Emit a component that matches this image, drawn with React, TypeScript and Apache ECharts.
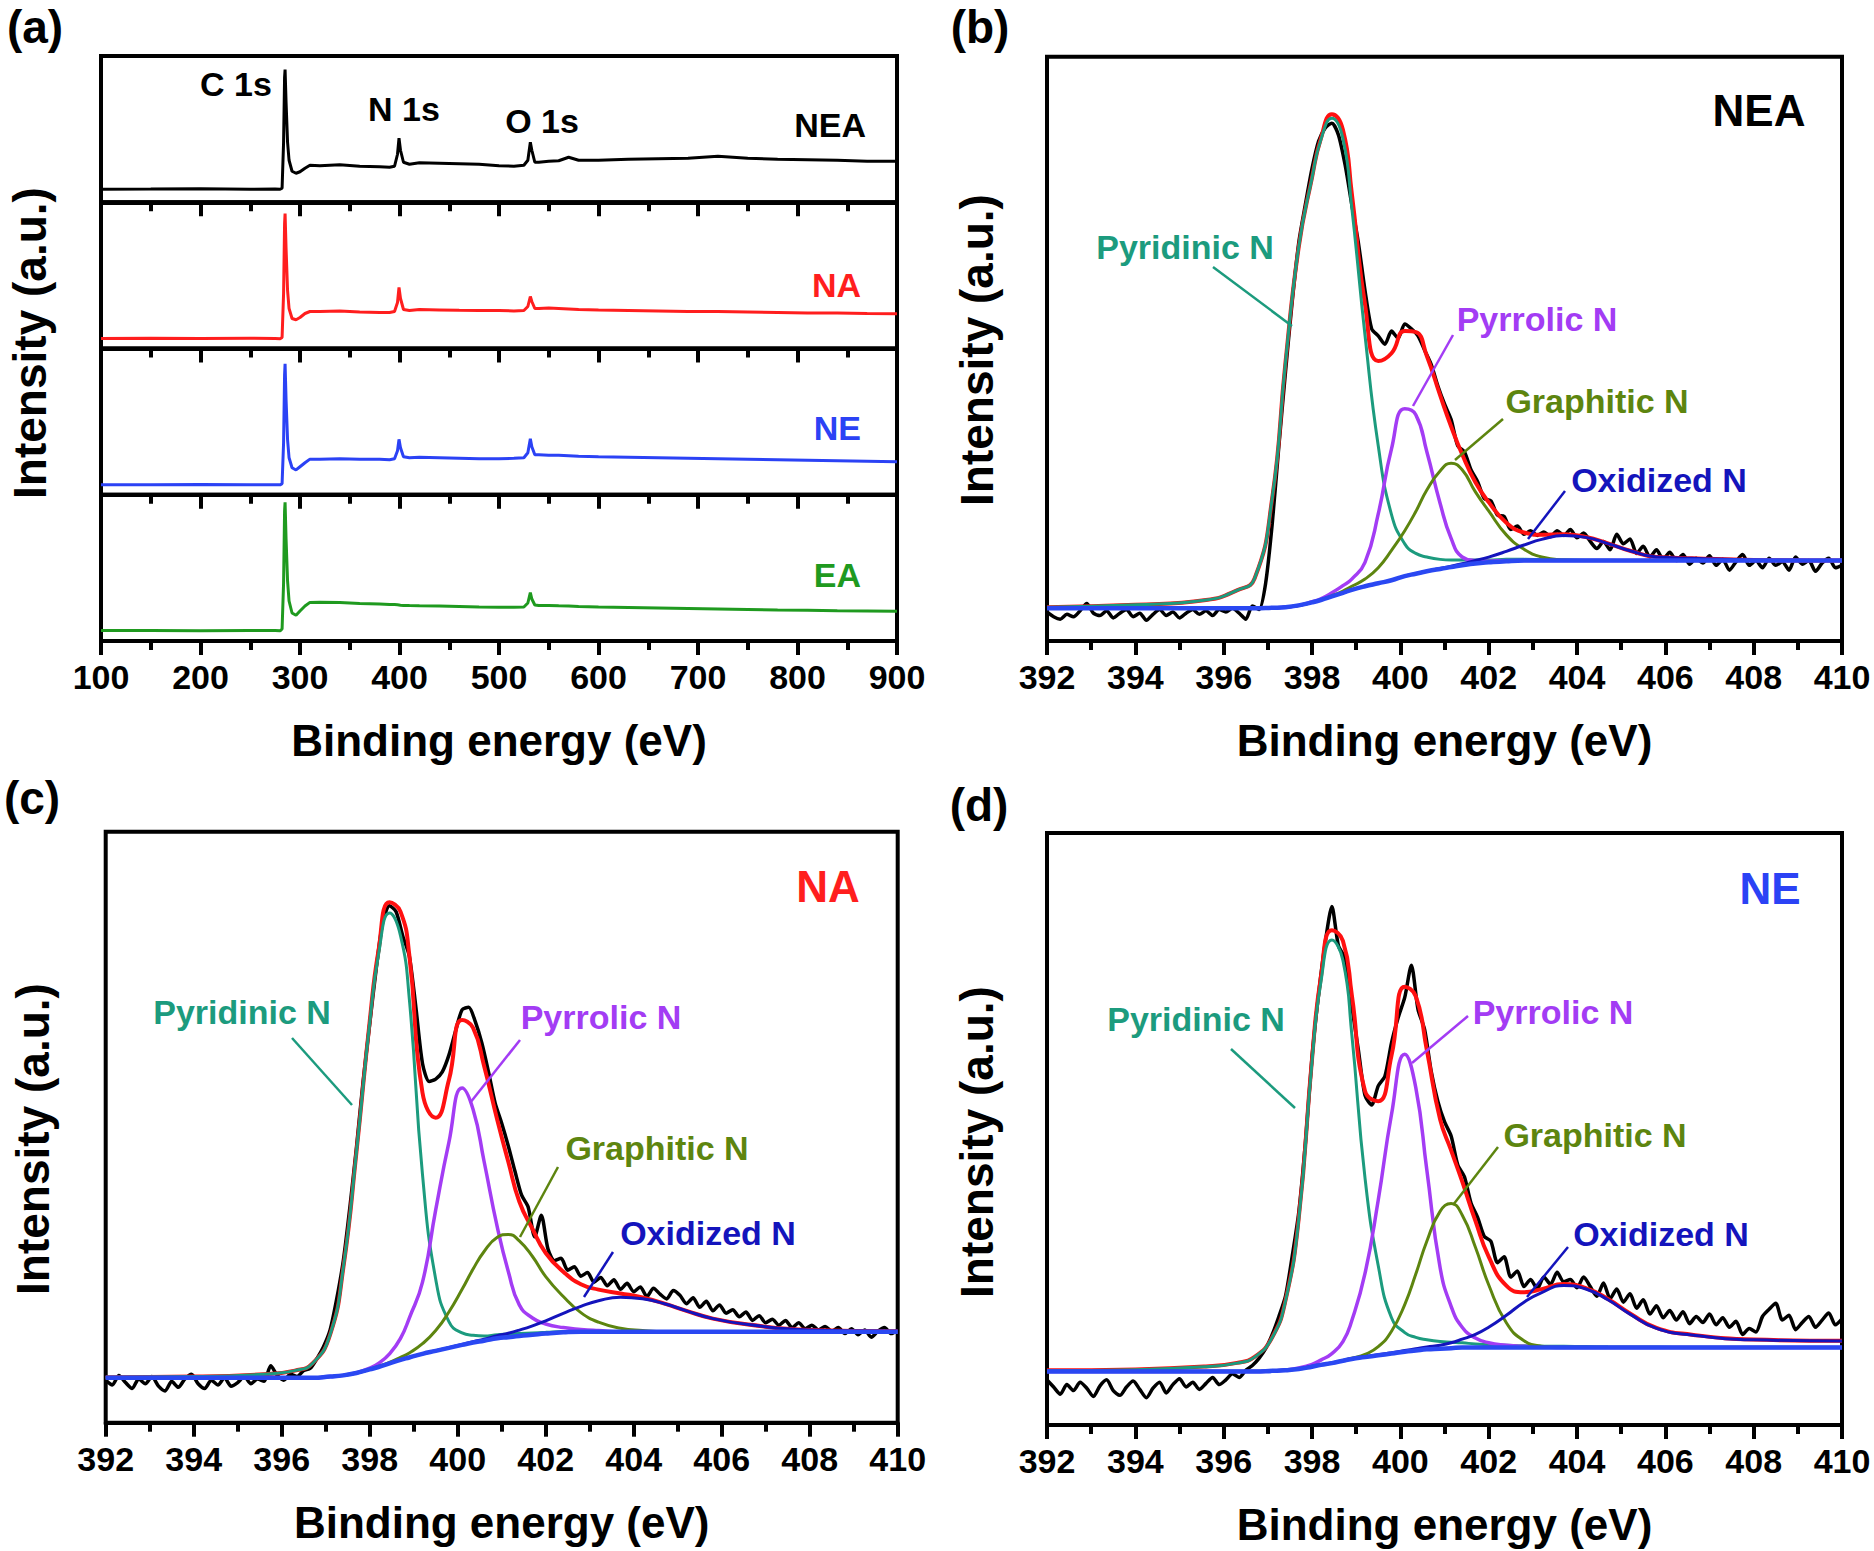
import React, { useEffect, useRef } from "react";
import * as echarts from "echarts";

const FONT = '"Liberation Sans", Arial, Helvetica, sans-serif';

// ---------------- (a) survey spectra ----------------
const SURVEY_X = [100, 150, 200, 250, 275, 280, 282, 283.5, 284.5, 285, 286, 287.5, 289, 292, 296, 300, 305, 310, 320, 340, 360, 380, 390, 395, 398, 399.5, 401, 404, 410, 420, 440, 460, 480, 500, 515, 525, 529, 531.5, 533, 536, 540, 550, 560, 570, 580, 600, 630, 660, 690, 720, 750, 780, 810, 840, 870, 900];
const SURVEY_NEA = [12.9, 13.2, 13.6, 13.0, 13.2, 13.0, 14, 60, 125, 132.7, 100, 60, 42, 31, 29, 30.5, 34, 37, 36.5, 37.5, 36, 35.5, 35, 36, 48, 64, 52, 40, 38, 39.5, 39, 38.5, 38, 36.5, 36, 37, 42, 60, 52, 40, 40, 41, 41.5, 45, 42, 42, 43, 43.5, 44, 46, 44, 43, 42.5, 42, 41, 41];
const SURVEY_NA = [9.9, 10.2, 10.0, 10.3, 10.0, 9.8, 11, 55, 125, 135, 100, 58, 40, 30, 28.7, 31, 35, 37, 37, 37.5, 36.5, 36, 36, 37, 46, 61, 50, 39, 38, 39, 38.6, 38.2, 38, 38, 37.5, 38, 42, 52, 47, 40, 40, 40.5, 40, 39.5, 39, 38.5, 38, 37.5, 37, 37, 36.5, 36, 35.5, 35.5, 35, 34.7];
const SURVEY_NE = [9.9, 10.1, 10.3, 10.0, 10.1, 9.9, 11, 52, 120, 131, 95, 55, 37, 27, 24.8, 28, 32, 35.6, 35.5, 36, 35.5, 35.5, 35, 36, 44, 55.4, 47, 38, 37, 37.5, 37, 36.5, 36, 36, 36.5, 37, 42, 56, 48, 40, 40, 39.6, 39.5, 39, 38.5, 38, 37.5, 37, 36.5, 36, 35.5, 35, 34.5, 34, 33.5, 33];
const SURVEY_EA = [10.4, 10.6, 10.3, 10.5, 10.4, 10.2, 12, 58, 130, 138.6, 102, 60, 40, 28, 25.7, 30, 35, 38.6, 38.8, 38.4, 37.6, 37, 36.6, 36.4, 36.2, 36, 35.8, 35.6, 35.4, 35.2, 35, 34.5, 34, 33.7, 33.7, 34, 38, 48.5, 42, 36, 35.6, 35.6, 35.2, 35, 34.6, 34, 33.5, 33, 32.5, 32, 31.5, 31, 30.8, 30.3, 30, 29.7];

// ---------------- N 1s fits (b, c, d) ----------------
const FIT_X = [392, 394, 395.6, 396.3, 396.7, 397.1, 397.4, 397.7, 398.0, 398.2, 398.45, 398.7, 398.9, 399.2, 399.5, 399.8, 400.1, 400.35, 400.6, 400.9, 401.15, 401.4, 401.7, 402.0, 402.4, 402.8, 403.2, 403.7, 404.2, 404.7, 405.2, 405.8, 406.6, 408, 410];

const BG_B = [34, 34, 34, 34, 34, 34.5, 35, 36.5, 39, 41, 44, 47, 49.5, 52.5, 55, 57.5, 61, 63, 65, 67, 68.5, 70, 71.5, 72.5, 73.5, 74, 74, 74, 74, 74, 74, 74, 74, 74, 74];
const PYRI_B = [1, 3, 7, 15, 25, 92, 205, 300, 355, 385, 400, 380, 320, 210, 115, 55, 27, 17, 12, 8, 6, 4.5, 3, 2, 1.5, 1, 0.8, 0.5, 0.3, 0.2, 0, 0, 0, 0, 0];
const PYRR_B = [0, 0, 0, 0, 0, 0, 0, 0, 0.5, 1, 3, 6, 9, 20, 58, 110, 140, 133, 100, 55, 24, 7, 2.5, 1, 0.5, 0, 0, 0, 0, 0, 0, 0, 0, 0, 0];
const GRAPH_B = [0, 0, 0, 0, 0, 0, 0, 0, 0, 0, 0.5, 1.5, 3, 6, 13, 25, 38, 52, 68, 82, 87, 80, 60, 43, 22, 9.5, 3, 0.5, 0, 0, 0, 0, 0, 0, 0];
const OXI_B = [0, 0, 0, 0, 0, 0, 0, 0, 0, 0, 0, 0, 0, 0, 0, 0, 0, 0.1, 0.15, 0.4, 0.7, 1.4, 2.5, 4.4, 8.2, 13, 17.7, 21, 19.4, 14.2, 8.2, 3, 2, 0.5, 0];

const BG_C = [42, 42, 42, 42, 42, 43, 44, 46, 49, 51, 54, 57, 59, 62, 64.5, 67, 69.5, 71.5, 73, 75, 76, 77, 78, 79, 80, 80.5, 80.5, 80.5, 80.5, 80.5, 80.5, 80.5, 80.5, 80.5, 80.5];
const PYRI_C = [0.5, 1, 3, 6, 12, 35, 90, 185, 290, 345, 377, 355, 300, 150, 60, 22, 10, 6, 4, 3, 2.5, 2, 1.5, 1, 0.8, 0.5, 0.3, 0.2, 0.1, 0, 0, 0, 0, 0, 0];
const PYRR_C = [0, 0, 0, 0, 0, 0, 0, 0.3, 1, 3, 8, 18, 33, 60, 118, 172, 215, 195, 150, 93, 55, 26, 14, 8, 4, 2, 1, 0, 0, 0, 0, 0, 0, 0, 0];
const GRAPH_C = [0, 0, 0, 0, 0, 0, 0, 0, 0.2, 0.5, 0.9, 2.1, 3.8, 8.5, 17, 30, 46.5, 61.5, 74.7, 84.5, 86, 79.6, 65.5, 47.7, 30, 16, 8, 3, 1, 0, 0, 0, 0, 0, 0];
const OXI_C = [0, 0, 0, 0, 0, 0, 0, 0, 0, 0, 0, 0, 0, 0, 0.1, 0.2, 0.4, 0.75, 1.2, 2.2, 3.3, 4.9, 7.5, 10.7, 15.9, 21.3, 26, 28.9, 27.6, 23.5, 17.5, 11, 6, 1.5, 0.5];

const BG_D = [49, 49, 49, 49, 49, 49.5, 50, 51, 53, 54.5, 56, 58, 59.5, 61, 62.5, 64, 65.5, 66.5, 67.5, 68, 68.5, 69, 69, 69, 69, 69, 69, 69, 69, 69, 69, 69, 69, 69, 69];
const PYRI_D = [0.8, 1.5, 4, 7, 12, 28, 58, 125, 255, 320, 354, 335, 272, 150, 75, 30, 16, 11, 8, 6, 5, 4, 3, 2.5, 2, 1.5, 1.2, 1, 0.8, 0.6, 0.5, 0.4, 0.3, 0.2, 0.1];
const PYRR_D = [0, 0, 0, 0, 0, 0, 0.3, 1, 2, 4, 8, 16, 32, 70, 130, 200, 249, 220, 150, 68, 35, 17, 8, 4, 2, 1, 0.5, 0, 0, 0, 0, 0, 0, 0, 0];
const GRAPH_D = [0, 0, 0, 0, 0, 0, 0, 0, 0, 0, 0, 0.1, 0.6, 2.3, 7.2, 18.6, 39.5, 64, 90.5, 115, 121, 111, 84, 52.6, 20.8, 5.8, 1.2, 0.1, 0, 0, 0, 0, 0, 0, 0];
const OXI_D = [0.2, 0.2, 0.2, 0.2, 0.2, 0.2, 0.2, 0.3, 0.3, 0.3, 0.3, 0.3, 0.4, 0.4, 0.5, 0.7, 1, 1.5, 2, 3, 4.5, 7, 11, 17, 27, 38, 46, 52, 49, 40, 28, 16, 10.5, 6.5, 5.5];

// raw spectra: 392 eV to 410 eV in 0.15 eV steps
const RAW_START = 392;
const RAW_STEP = 0.15;
const RAW_B = [31, 27, 25, 29, 27, 32, 38, 30, 28, 32, 26, 30, 33, 27, 30, 24, 29, 33, 28, 31, 26, 30, 33, 29, 32, 28, 33, 31, 34, 30, 25, 36, 33, 55, 105, 170, 232, 290, 340, 372, 402, 425, 436, 440, 430, 405, 372, 340, 300, 268, 262, 255, 266, 260, 272, 268, 262, 250, 238, 220, 205, 192, 170, 165, 150, 140, 126, 124, 112, 111, 100, 103, 96, 99, 95, 98, 94, 99, 95, 100, 93, 97, 90, 84, 90, 83, 96, 88, 92, 80, 86, 77, 83, 75, 81, 74, 79, 71, 76, 72, 78, 70, 75, 66, 73, 79, 70, 74, 68, 76, 70, 73, 66, 77, 71, 74, 65, 72, 76, 68, 70];
const RAW_C = [40, 36, 44, 38, 33, 41, 37, 43, 35, 31, 39, 34, 41, 45, 37, 33, 40, 36, 42, 35, 38, 43, 37, 41, 39, 52, 44, 40, 45, 43, 48, 50, 58, 68, 82, 108, 140, 185, 235, 290, 338, 385, 424, 437, 432, 412, 395, 352, 305, 290, 292, 298, 312, 332, 350, 352, 340, 322, 298, 272, 255, 236, 215, 195, 185, 160, 178, 150, 140, 142, 132, 135, 127, 130, 122, 126, 119, 124, 116, 121, 114, 118, 110, 117, 112, 108, 115, 111, 104, 109, 101, 106, 98, 103, 96, 99, 93, 97, 90, 94, 88, 91, 86, 90, 84, 88, 83, 86, 82, 85, 81, 84, 79, 83, 78, 82, 76, 81, 84, 79, 82];
const RAW_D = [42, 36, 30, 38, 33, 40, 35, 28, 37, 42, 33, 29, 36, 41, 34, 27, 35, 40, 31, 38, 43, 36, 40, 34, 39, 44, 38, 42, 47, 44, 50, 54, 60, 68, 80, 95, 112, 145, 182, 240, 312, 365, 408, 438, 405, 395, 355, 318, 280, 272, 288, 296, 324, 345, 362, 389, 352, 335, 300, 275, 258, 246, 222, 212, 190, 178, 162, 158, 140, 145, 128, 133, 120, 126, 118, 128, 122, 132, 124, 126, 119, 128, 120, 112, 123, 110, 118, 107, 114, 102, 109, 97, 104, 94, 100, 92, 99, 89, 95, 90, 97, 88, 94, 86, 91, 80, 85, 82, 95, 101, 106, 92, 96, 84, 90, 95, 86, 92, 98, 88, 93];

// ---------------- colours ----------------
const C_PYRI = "#1c9b7e";
const C_PYRR = "#a33cf4";
const C_GRAPH = "#5d850f";
const C_OXI = "#1414bc";
const C_BG = "#2a48f2";
const C_ENV = "#ff1010";
const C_NA = "#ff1e1e";
const C_NE = "#2b42f5";
const C_EA = "#1f9a1f";

const pairs = (xs: number[], ys: number[]) => xs.map((x, i) => [x, ys[i]]);
const rawPairs = (ys: number[]) => ys.map((y, i) => [RAW_START + RAW_STEP * i, y]);
const onBg = (bg: number[], c: number[]) => bg.map((b, i) => b + c[i]);
const envelope = (bg: number[], cs: number[][]) => bg.map((b, i) => b + cs.reduce((s, c) => s + c[i], 0));

const GRIDS = [
  { left: 101, top: 56, width: 796, height: 146.25 },
  { left: 101, top: 202.25, width: 796, height: 146.25 },
  { left: 101, top: 348.5, width: 796, height: 146.25 },
  { left: 101, top: 494.75, width: 796, height: 146.25 },
  { left: 1047, top: 56.7, width: 795, height: 584.3 },
  { left: 105.7, top: 831.7, width: 792, height: 591 },
  { left: 1047, top: 833, width: 795, height: 592 },
];

function xAxisCfg(gridIndex: number, min: number, max: number, interval: number, showLabel: boolean) {
  return {
    type: "value",
    gridIndex,
    min,
    max,
    interval,
    axisLine: { show: true, onZero: false, lineStyle: { color: "#000", width: 4 } },
    axisTick: { show: true, inside: false, length: 14, lineStyle: { color: "#000", width: 4 } },
    minorTick: { show: true, splitNumber: 2, length: 9, lineStyle: { color: "#000", width: 4 } },
    axisLabel: { show: showLabel, fontSize: 34, fontWeight: "bold", fontFamily: FONT, color: "#000", margin: 19 },
    splitLine: { show: false },
    minorSplitLine: { show: false },
  };
}

function lineSeries(ai: number, data: number[][], color: string, width: number, smooth: number | boolean) {
  return {
    type: "line",
    xAxisIndex: ai,
    yAxisIndex: ai,
    data,
    showSymbol: false,
    symbol: "none",
    smooth,
    silent: true,
    lineStyle: { color, width },
  };
}

function n1sSeries(ai: number, raw: number[], bg: number[], pyri: number[], pyrr: number[], graph: number[], oxi: number[]) {
  return [
    lineSeries(ai, rawPairs(raw), "#000", 3.5, 0.25),
    lineSeries(ai, pairs(FIT_X, envelope(bg, [pyri, pyrr, graph, oxi])), C_ENV, 4, 0.5),
    lineSeries(ai, pairs(FIT_X, onBg(bg, pyri)), C_PYRI, 3, 0.5),
    lineSeries(ai, pairs(FIT_X, onBg(bg, pyrr)), C_PYRR, 3.5, 0.5),
    lineSeries(ai, pairs(FIT_X, onBg(bg, graph)), C_GRAPH, 3, 0.5),
    lineSeries(ai, pairs(FIT_X, onBg(bg, oxi)), C_OXI, 3, 0.5),
    lineSeries(ai, pairs(FIT_X, bg), C_BG, 4.5, 0.5),
  ];
}

function txt(text: string, x: number, y: number, size: number, fill: string, align = "center", rotation = 0) {
  return {
    type: "text",
    x,
    y,
    rotation,
    silent: true,
    z: 100,
    style: {
      text,
      x: 0,
      y: 0,
      fill,
      font: `bold ${size}px ${FONT}`,
      align,
      verticalAlign: "middle",
      textAlign: align,
      textVerticalAlign: "middle",
    },
  };
}

function seg(x1: number, y1: number, x2: number, y2: number, stroke: string) {
  return { type: "line", silent: true, z: 100, shape: { x1, y1, x2, y2 }, style: { stroke, lineWidth: 2.5 } };
}

export default function App() {
  const ref = useRef<HTMLDivElement>(null);
  useEffect(() => {
    if (!ref.current) return;
    const chart = echarts.init(ref.current, null, { renderer: "svg", width: 1874, height: 1551 });

    const grid = GRIDS.map((g) => ({
      ...g,
      show: true,
      borderColor: "#000",
      borderWidth: 4,
      backgroundColor: "transparent",
      containLabel: false,
      outerBoundsMode: "none",
    }));

    const xAxis = [
      xAxisCfg(0, 100, 900, 100, false),
      xAxisCfg(1, 100, 900, 100, false),
      xAxisCfg(2, 100, 900, 100, false),
      xAxisCfg(3, 100, 900, 100, true),
      xAxisCfg(4, 392, 410, 2, true),
      xAxisCfg(5, 392, 410, 2, true),
      xAxisCfg(6, 392, 410, 2, true),
    ];
    const yRanges = [
      [0, 146.25],
      [0, 146.25],
      [0, 146.25],
      [0, 146.25],
      [6.7, 495.6],
      [4.4, 499],
      [4.2, 499.6],
    ];
    const yAxis = yRanges.map((r, i) => ({ type: "value", gridIndex: i, min: r[0], max: r[1], show: false }));

    const series: any[] = [
      lineSeries(0, pairs(SURVEY_X, SURVEY_NEA), "#000", 3, false),
      lineSeries(1, pairs(SURVEY_X, SURVEY_NA), C_NA, 3, false),
      lineSeries(2, pairs(SURVEY_X, SURVEY_NE), C_NE, 3, false),
      lineSeries(3, pairs(SURVEY_X, SURVEY_EA), C_EA, 3, false),
      ...n1sSeries(4, RAW_B, BG_B, PYRI_B, PYRR_B, GRAPH_B, OXI_B),
      ...n1sSeries(5, RAW_C, BG_C, PYRI_C, PYRR_C, GRAPH_C, OXI_C),
      ...n1sSeries(6, RAW_D, BG_D, PYRI_D, PYRR_D, GRAPH_D, OXI_D),
    ];

    const graphic: any[] = [
      // panel letters
      txt("(a)", 35, 27, 46, "#000"),
      txt("(b)", 980, 27, 46, "#000"),
      txt("(c)", 32, 798, 46, "#000"),
      txt("(d)", 979, 805, 46, "#000"),
      // axis titles
      txt("Binding energy (eV)", 499, 740, 44, "#000"),
      txt("Binding energy (eV)", 1444.5, 740, 44, "#000"),
      txt("Binding energy (eV)", 501.7, 1522, 44, "#000"),
      txt("Binding energy (eV)", 1444.5, 1524, 44, "#000"),
      txt("Intensity (a.u.)", 30, 343, 46, "#000", "center", Math.PI / 2),
      txt("Intensity (a.u.)", 977, 350, 46, "#000", "center", Math.PI / 2),
      txt("Intensity (a.u.)", 33, 1139, 46, "#000", "center", Math.PI / 2),
      txt("Intensity (a.u.)", 977, 1142, 46, "#000", "center", Math.PI / 2),
      // (a) labels
      txt("C 1s", 236, 84, 34, "#000"),
      txt("N 1s", 404, 109, 34, "#000"),
      txt("O 1s", 542, 121, 34, "#000"),
      txt("NEA", 866, 125, 34, "#000", "right"),
      txt("NA", 861, 285, 34, C_NA, "right"),
      txt("NE", 861, 428, 34, C_NE, "right"),
      txt("EA", 861, 575, 34, C_EA, "right"),
      // (b)
      txt("NEA", 1759, 110, 44, "#000"),
      txt("Pyridinic N", 1185, 247, 34, C_PYRI),
      txt("Pyrrolic N", 1537, 319, 34, C_PYRR),
      txt("Graphitic N", 1597, 401, 34, C_GRAPH),
      txt("Oxidized N", 1659, 480, 34, C_OXI),
      seg(1213, 267, 1292, 326, C_PYRI),
      seg(1453, 335, 1413, 406, C_PYRR),
      seg(1503, 419, 1455, 460, C_GRAPH),
      seg(1565, 491, 1528, 539, C_OXI),
      // (c)
      txt("NA", 828, 886, 44, C_NA),
      txt("Pyridinic N", 242, 1012, 34, C_PYRI),
      txt("Pyrrolic N", 601, 1017, 34, C_PYRR),
      txt("Graphitic N", 657, 1148, 34, C_GRAPH),
      txt("Oxidized N", 708, 1233, 34, C_OXI),
      seg(292, 1038, 352, 1105, C_PYRI),
      seg(520, 1040, 470, 1103, C_PYRR),
      seg(558, 1167, 520, 1237, C_GRAPH),
      seg(613, 1252, 584, 1297, C_OXI),
      // (d)
      txt("NE", 1770, 888, 44, C_NE),
      txt("Pyridinic N", 1196, 1019, 34, C_PYRI),
      txt("Pyrrolic N", 1553, 1012, 34, C_PYRR),
      txt("Graphitic N", 1595, 1135, 34, C_GRAPH),
      txt("Oxidized N", 1661, 1234, 34, C_OXI),
      seg(1231, 1049, 1295, 1108, C_PYRI),
      seg(1468, 1016, 1412, 1063, C_PYRR),
      seg(1498, 1147, 1453, 1205, C_GRAPH),
      seg(1568, 1247, 1527, 1297, C_OXI),
    ];

    chart.setOption({
      animation: false,
      backgroundColor: "#fff",
      grid,
      xAxis,
      yAxis,
      series,
      graphic,
    } as any);

    return () => chart.dispose();
  }, []);

  return (
    <div
      ref={ref}
      style={{ position: "absolute", left: 0, top: 0, width: 1874, height: 1551, background: "#fff" }}
    />
  );
}
